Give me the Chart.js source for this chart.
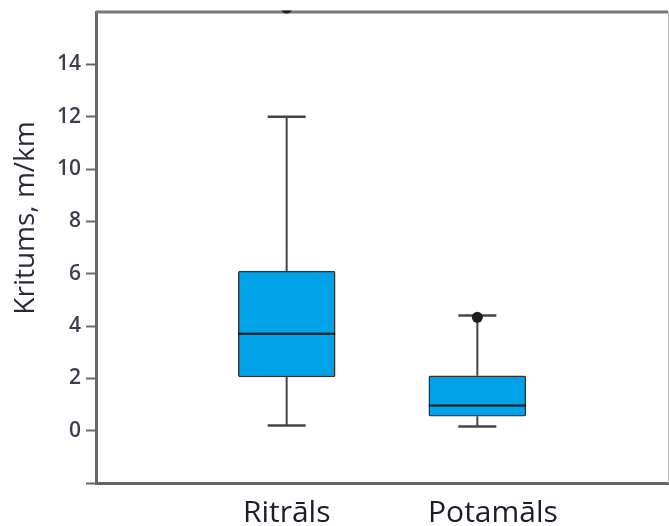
<!DOCTYPE html>
<html>
<head>
<meta charset="utf-8">
<script src="https://cdn.jsdelivr.net/npm/chart.js@4"></script>
<style>
  html, body { margin: 0; padding: 0; background: #fff; }
  #wrap { width: 669px; height: 526px; position: relative; }
</style>
</head>
<body>
<div id="wrap"><canvas id="boxplot"></canvas></div>
<script>
// --- Dati (nolasīti no attēla) ---
const categories = ['', 'Ritrāls', 'Potamāls', ''];
const whiskerLow = [null, 0.2, 0.16, null];
const boxLow = [null, 2.05, 0.55, null];
const medians = [null, 3.7, 0.96, null];
const boxHigh = [null, 6.1, 2.1, null];
const whiskerHigh = [null, 12.0, 4.4, null];
const outliers = [[], [16.15], [4.33], []];
const yTicks = [0, 2, 4, 6, 8, 10, 12, 14];
const yTitle = 'Kritums, m/km';

const BOX_COLOR = '#00a2e8';
const LINE_COLOR = '#444';
const CAP_HALF = 19;

// kastes kā "floating bars"
const boxes = categories.map((c, i) => boxLow[i] == null ? null : [boxLow[i], boxHigh[i]]);

const boxPlugin = {
  id: 'boxParts',
  beforeDatasetsDraw(chart) {
    const { ctx, scales: { x, y } } = chart;
    ctx.save();
    ctx.strokeStyle = LINE_COLOR;
    ctx.lineWidth = 2;
    categories.forEach((c, i) => {
      if (whiskerLow[i] == null) return;
      const px = x.getPixelForValue(i);
      ctx.beginPath();
      ctx.moveTo(px, y.getPixelForValue(whiskerLow[i]));
      ctx.lineTo(px, y.getPixelForValue(boxLow[i]));
      ctx.moveTo(px, y.getPixelForValue(boxHigh[i]));
      ctx.lineTo(px, y.getPixelForValue(whiskerHigh[i]));
      ctx.stroke();
    });
    ctx.restore();
  },
  afterDatasetsDraw(chart) {
    const { ctx, scales: { x, y } } = chart;
    const bar = chart.getDatasetMeta(0).data;
    ctx.save();
    categories.forEach((c, i) => {
      if (medians[i] == null) return;
      const px = x.getPixelForValue(i);
      const half = bar[i].width / 2;
      // caps
      ctx.strokeStyle = LINE_COLOR;
      ctx.lineWidth = 2.5;
      [whiskerLow[i], whiskerHigh[i]].forEach(v => {
        const py = y.getPixelForValue(v);
        ctx.beginPath();
        ctx.moveTo(px - CAP_HALF, py);
        ctx.lineTo(px + CAP_HALF, py);
        ctx.stroke();
      });
      // median
      ctx.strokeStyle = '#111';
      ctx.lineWidth = 2;
      const my = y.getPixelForValue(medians[i]);
      ctx.beginPath();
      ctx.moveTo(px - half, my);
      ctx.lineTo(px + half, my);
      ctx.stroke();
    });
    ctx.restore();
  },
  afterDraw(chart) {
    const { ctx, chartArea, scales: { x, y } } = chart;
    ctx.save();
    // augšējā un labā mala
    ctx.strokeStyle = '#777';
    ctx.lineWidth = 3;
    ctx.beginPath();
    ctx.moveTo(chartArea.left, chartArea.top);
    ctx.lineTo(chartArea.right, chartArea.top);
    ctx.stroke();
    ctx.strokeStyle = '#bbb';
    ctx.lineWidth = 1;
    ctx.beginPath();
    ctx.moveTo(chartArea.right + 0.5, chartArea.top);
    ctx.lineTo(chartArea.right + 0.5, chartArea.bottom);
    ctx.stroke();
    ctx.restore();

    // outliers (virs rāmja, nogriezti pie tā augšmalas)
    ctx.save();
    ctx.beginPath();
    ctx.rect(chartArea.left, chartArea.top - 1.5, chartArea.right - chartArea.left, chartArea.bottom - chartArea.top + 1.5);
    ctx.clip();
    ctx.fillStyle = '#1e1e1e';
    categories.forEach((c, i) => {
      const px = x.getPixelForValue(i);
      outliers[i].forEach(v => {
        ctx.beginPath();
        ctx.arc(px, y.getPixelForValue(v), 5.5, 0, Math.PI * 2);
        ctx.fill();
      });
    });
    ctx.restore();

    // ass nosaukums
    ctx.save();
    ctx.translate(26, 218);
    ctx.rotate(-Math.PI / 2);
    ctx.fillStyle = '#2a2a38';
    ctx.font = '28px "Open Sans"';
    ctx.textAlign = 'center';
    ctx.textBaseline = 'middle';
    ctx.fillText(yTitle, 0, 0);
    ctx.restore();
  }
};

new Chart(document.getElementById('boxplot'), {
  type: 'bar',
  data: {
    labels: categories,
    datasets: [{
      data: boxes,
      backgroundColor: BOX_COLOR,
      borderColor: '#333',
      borderWidth: 1.5,
      borderRadius: 2,
      borderSkipped: false,
      barThickness: 97
    }]
  },
  options: {
    responsive: true,
    maintainAspectRatio: false,
    animation: false,
    layout: { padding: { top: 12, right: 1, left: 0, bottom: 0 } },
    plugins: { legend: { display: false }, tooltip: { enabled: false } },
    scales: {
      x: {
        offset: false,
        grid: { display: false, drawTicks: false },
        border: { display: true, color: '#666', width: 3 },
        ticks: {
          autoSkip: false,
          maxRotation: 0,
          padding: 0,
          color: '#1c1c30',
          font: { family: 'Open Sans', size: 30, lineHeight: 2.05 },
          // Potamāls uzraksts attēlā nedaudz pa labi no kastes
          callback: (v, i) => i === 2 ? '    ' + categories[i] : categories[i]
        },
        afterFit(scale) { scale.height = 43; }
      },
      y: {
        min: -2,
        max: 16,
        grid: {
          drawOnChartArea: false,
          drawTicks: true,
          tickLength: 10,
          tickWidth: 2,
          tickColor: ctx => (ctx.tick && ctx.tick.value > 14) ? 'transparent' : '#666'
        },
        border: { display: true, color: '#666', width: 3 },
        ticks: {
          stepSize: 2,
          padding: 5,
          color: '#3d3d4d',
          font: { family: 'Open Sans', size: 21, weight: '600', lineHeight: 0.5 },
          callback: v => yTicks.includes(v) ? String(v) : ''
        },
        afterFit(scale) { scale.width = 96; }
      }
    }
  },
  plugins: [boxPlugin]
});
</script>
</body>
</html>
